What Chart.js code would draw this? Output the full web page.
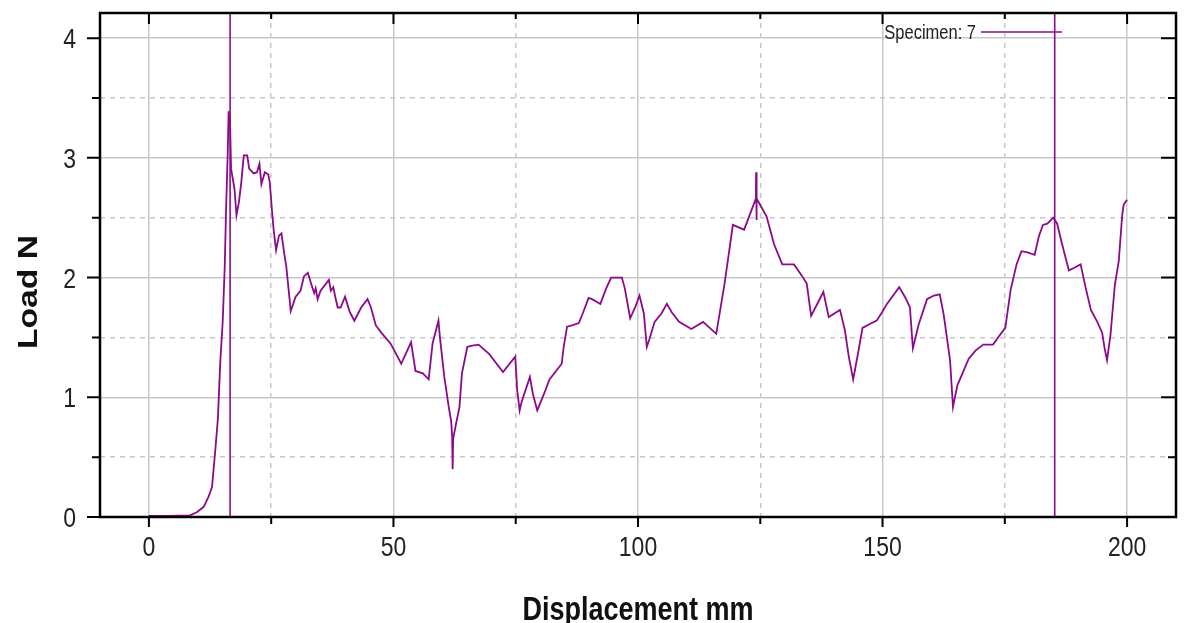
<!DOCTYPE html>
<html>
<head>
<meta charset="utf-8">
<script src="https://cdn.jsdelivr.net/npm/chart.js@4.4.1/dist/chart.umd.min.js"></script>
<style>
  body { margin: 0; background: #fff; }
</style>
</head>
<body>
<canvas id="grafico" width="1184" height="623"></canvas>
<script>
// valores
const displacement = [
  0, 4, 8.4, 9.8, 11.2, 12.2, 12.9, 13.6, 14.1, 14.6, 15.1, 15.5, 15.8, 16.1, 16.3, 16.6, 16.8, 17.5, 17.9, 18.4,
  18.9, 19.4, 20.1, 20.5, 21.4, 22.1, 22.6, 23.0, 23.7, 24.4, 24.7, 25.2, 25.5, 26.0, 26.6, 27.1, 27.6, 28.1, 29.0, 30.0,
  31.0, 31.7, 32.5, 33.4, 33.8, 34.1, 34.5, 35.1, 36.8, 37.2, 37.7, 38.1, 38.6, 39.2, 40.1, 41.0, 42.0, 43.4, 44.7, 45.4,
  46.4, 47.5, 49.4, 51.6, 53.6, 54.5, 56.0, 57.2, 58.0, 59.2, 59.5, 60.4, 61.3, 61.8, 62.0, 62.1, 62.2, 62.8, 63.5, 64.0,
  65.1, 65.8, 67.4, 69.6, 70.9, 72.4, 74.9, 75.3, 75.8, 76.2, 77.9, 78.5, 79.4, 80.8, 81.9, 84.4, 84.8, 85.5, 86.5, 87.9,
  88.7, 89.9, 90.6, 92.3, 93.5, 94.5, 96.7, 97.3, 98.4, 99.5, 100.3, 101.2, 101.5, 101.8, 102.3, 103.4, 104.8, 105.9, 106.9, 108.4,
  110.9, 113.3, 116.0, 117.7, 119.4, 121.7, 124.1, 124.15, 124.2, 124.3, 126.3, 127.8, 129.5, 131.9, 133.6, 134.5, 135.4, 136.9, 137.9, 139.0,
  141.3, 142.3, 143.1, 144.0, 145.0, 145.9, 147.8, 148.8, 149.9, 150.9, 153.4, 154.7, 155.6, 156.2, 157.4, 159.1, 160.5, 161.7, 162.5, 163.8,
  164.4, 165.3, 167.6, 169.0, 170.6, 172.6, 173.8, 175.1, 176.2, 177.4, 178.4, 179.6, 181.1, 182.0, 182.8, 183.7, 184.9, 185.7, 186.7, 188.1,
  189.1, 190.5, 191.5, 192.6, 193.9, 194.9, 195.4, 195.9, 196.6, 197.5, 198.3, 199.0, 199.3, 200.0
];
const load = [
  0.01, 0.01, 0.014, 0.04, 0.085, 0.17, 0.25, 0.57, 0.82, 1.30, 1.64, 2.09, 2.60, 3.02, 3.39, 3.28, 2.91, 2.74, 2.52, 2.63,
  2.80, 3.02, 3.02, 2.91, 2.87, 2.88, 2.95, 2.78, 2.88, 2.86, 2.80, 2.54, 2.40, 2.23, 2.35, 2.37, 2.22, 2.09, 1.72, 1.84,
  1.89, 2.01, 2.04, 1.92, 1.87, 1.91, 1.82, 1.89, 1.98, 1.89, 1.92, 1.84, 1.75, 1.75, 1.84, 1.72, 1.64, 1.75, 1.82, 1.75,
  1.60, 1.54, 1.45, 1.28, 1.46, 1.22, 1.20, 1.15, 1.45, 1.64, 1.50, 1.17, 0.92, 0.80, 0.68, 0.40, 0.65, 0.78, 0.92, 1.20,
  1.42, 1.43, 1.44, 1.36, 1.29, 1.21, 1.34, 1.06, 0.89, 0.96, 1.17, 1.03, 0.89, 1.03, 1.15, 1.28, 1.42, 1.59, 1.60, 1.62,
  1.70, 1.83, 1.82, 1.78, 1.91, 2.00, 2.00, 1.91, 1.66, 1.76, 1.85, 1.70, 1.56, 1.42, 1.48, 1.63, 1.70, 1.78, 1.71, 1.63,
  1.57, 1.63, 1.53, 1.95, 2.44, 2.40, 2.66, 2.88, 2.48, 2.66, 2.51, 2.28, 2.11, 2.11, 2.01, 1.95, 1.68, 1.80, 1.88, 1.67,
  1.73, 1.56, 1.34, 1.15, 1.37, 1.58, 1.62, 1.64, 1.71, 1.78, 1.92, 1.83, 1.75, 1.41, 1.61, 1.82, 1.85, 1.86, 1.69, 1.31,
  0.92, 1.10, 1.32, 1.39, 1.44, 1.44, 1.51, 1.58, 1.90, 2.11, 2.22, 2.21, 2.19, 2.35, 2.44, 2.45, 2.50, 2.45, 2.28, 2.06,
  2.08, 2.11, 1.92, 1.73, 1.63, 1.54, 1.41, 1.31, 1.52, 1.94, 2.14, 2.52, 2.61, 2.65
];
const markerX = [16.6, 185.2];
const xTicks = [0, 25, 50, 75, 100, 125, 150, 175, 200];
const yTicks = [0, 0.5, 1, 1.5, 2, 2.5, 3, 3.5, 4];
const xMin = -10, xMax = 210, yMin = 0, yMax = 4.21;
const seriesLabel = 'Specimen: 7';
const xTitle = 'Displacement mm';
const yTitle = 'Load N';

const roxo = '#8b0a8b';
const fonte = "'Liberation Sans', Arial, sans-serif";
const esticar = 1.22; // o original tem o texto esticado na vertical

const pontos = displacement.map((d, i) => ({ x: d, y: load[i] }));
const linhasVerticais = markerX.map(m => ({
  data: [{ x: m, y: yMin }, { x: m, y: yMax }],
  borderColor: roxo,
  borderWidth: 1.6,
  pointRadius: 0,
  showLine: true
}));

function texto(ctx, txt, x, y, sx, sy) {
  ctx.save();
  ctx.translate(x, y);
  ctx.scale(sx, sy);
  ctx.fillText(txt, 0, 0);
  ctx.restore();
}

// moldura, marcas, rotulos dos eixos e legenda
const moldura = {
  id: 'moldura',
  afterDraw(chart) {
    const { ctx, chartArea: a, scales: { x, y } } = chart;
    ctx.save();
    ctx.strokeStyle = '#000';
    ctx.lineWidth = 2;
    ctx.beginPath();
    xTicks.forEach(v => {
      const px = x.getPixelForValue(v);
      const major = v % 50 === 0;
      ctx.moveTo(px, a.bottom); ctx.lineTo(px, a.bottom + (major ? 10 : 7));
      ctx.moveTo(px, a.top); ctx.lineTo(px, a.top + (major ? 11 : 6));
    });
    yTicks.forEach(v => {
      const py = y.getPixelForValue(v);
      const major = v % 1 === 0;
      ctx.moveTo(a.left, py); ctx.lineTo(a.left - (major ? 13 : 8), py);
      ctx.moveTo(a.right, py); ctx.lineTo(a.right - (major ? 15 : 8), py);
    });
    ctx.stroke();
    ctx.lineWidth = 2.5;
    ctx.strokeRect(a.left, a.top, a.right - a.left, a.bottom - a.top);

    // rotulos das marcas
    ctx.fillStyle = '#222';
    ctx.font = '23px ' + fonte;
    ctx.textBaseline = 'alphabetic';
    ctx.textAlign = 'center';
    xTicks.filter(v => v % 50 === 0).forEach(v => {
      texto(ctx, String(v), x.getPixelForValue(v), 556, 1, esticar);
    });
    ctx.textAlign = 'right';
    yTicks.filter(v => v % 1 === 0).forEach(v => {
      texto(ctx, String(v), 76, y.getPixelForValue(v) + 10, 1, esticar);
    });

    // titulos
    ctx.fillStyle = '#111';
    ctx.font = 'bold 27px ' + fonte;
    ctx.textAlign = 'center';
    texto(ctx, xTitle, (a.left + a.right) / 2, 620, 1, 1.25);

    ctx.save();
    ctx.font = 'bold 28px ' + fonte;
    ctx.translate(37, 292);
    ctx.rotate(-Math.PI / 2);
    texto(ctx, yTitle, 0, 0, 1.2, 1);
    ctx.restore();

    // legenda
    ctx.fillStyle = '#222';
    ctx.font = '16.5px ' + fonte;
    ctx.textAlign = 'right';
    texto(ctx, seriesLabel, 976, 38.5, 1, 1.18);
    ctx.strokeStyle = roxo;
    ctx.lineWidth = 1.6;
    ctx.beginPath();
    ctx.moveTo(981, 32);
    ctx.lineTo(1062, 32);
    ctx.stroke();
    ctx.restore();
  }
};

new Chart(document.getElementById('grafico'), {
  type: 'scatter',
  data: {
    datasets: [{
      label: seriesLabel,
      data: pontos,
      borderColor: roxo,
      borderWidth: 1.8,
      pointRadius: 0,
      showLine: true
    }].concat(linhasVerticais)
  },
  options: {
    responsive: false,
    animation: false,
    layout: { padding: { top: 13, right: 8, left: 0, bottom: 0 } },
    plugins: { legend: { display: false }, tooltip: { enabled: false } },
    scales: {
      x: {
        type: 'linear',
        min: xMin,
        max: xMax,
        afterBuildTicks: s => { s.ticks = xTicks.map(v => ({ value: v })); },
        afterFit: s => { s.height = 106; },
        grid: { color: '#c8c8c8', lineWidth: 1.5, drawTicks: false },
        border: { display: false, dash: c => (c.tick && c.tick.value % 50 !== 0) ? [5, 5] : [] },
        ticks: { display: false }
      },
      y: {
        min: yMin,
        max: yMax,
        afterBuildTicks: s => { s.ticks = yTicks.map(v => ({ value: v })); },
        afterFit: s => { s.width = 100; },
        grid: { color: '#c8c8c8', lineWidth: 1.5, drawTicks: false },
        border: { display: false, dash: c => (c.tick && c.tick.value % 1 !== 0) ? [5, 5] : [] },
        ticks: { display: false }
      }
    }
  },
  plugins: [moldura]
});
</script>
</body>
</html>
